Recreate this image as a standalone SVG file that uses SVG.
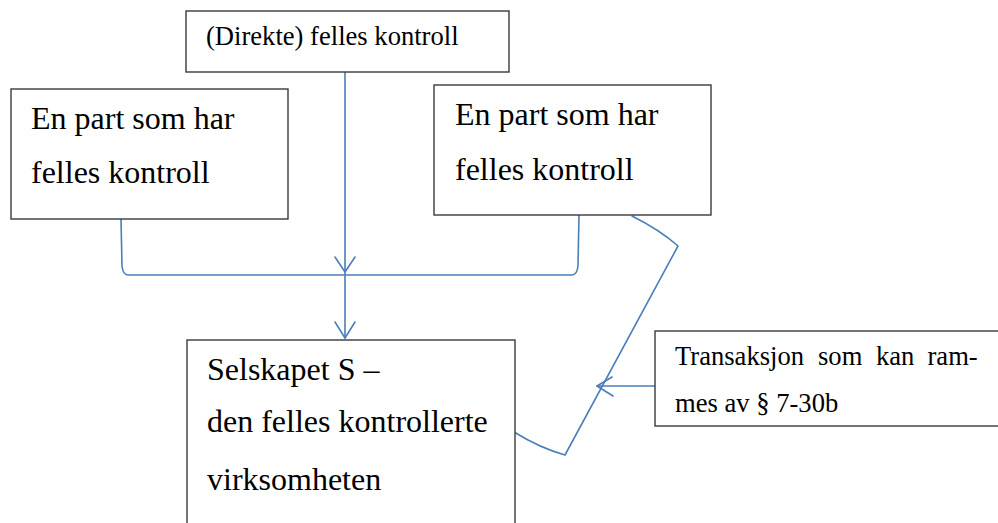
<svg xmlns="http://www.w3.org/2000/svg" width="998" height="523" viewBox="0 0 998 523">
  <style>
    .box { fill: #ffffff; stroke: #3a3a3a; stroke-width: 1.4; }
    .big { font-family: "Liberation Serif", "Times New Roman", serif; font-size: 32px; fill: #000; }
    .small { font-family: "Liberation Serif", "Times New Roman", serif; font-size: 26.6px; fill: #000; }
    .conn { fill: none; stroke: #4a7ebb; stroke-width: 1.6; stroke-linejoin: round; stroke-linecap: round; }
  </style>
  <rect width="998" height="523" fill="#ffffff"/>

  <g id="connectors">
    <!-- bracket joining the two parties -->
    <path class="conn" d="M121 219 L122 266 Q123 275 128 275 L572 275 Q577 275 578 266 L579 215"/>
    <!-- direct joint control line -->
    <path class="conn" d="M345 72 L345 338"/>
    <path class="conn" d="M335 257 L345 272 L355 257"/>
    <path class="conn" d="M335 322 L345 338 L355 322"/>
    <!-- transaction loop -->
    <path class="conn" d="M632 216 Q660 230 678 246 L565 455 Q540 448 514 432"/>
    <!-- transaction pointer -->
    <path class="conn" d="M655 386 L597 386"/>
    <path class="conn" d="M612 377 L597 386 L613 396"/>
  </g>

  <g id="node-direct">
    <rect class="box" x="186" y="11" width="323" height="61"/>
    <text class="small" x="206" y="45">(Direkte) felles kontroll</text>
  </g>

  <g id="node-party-left">
    <rect class="box" x="11" y="89" width="277" height="130"/>
    <text class="big" x="31" y="129">En part som har</text>
    <text class="big" x="31" y="183">felles kontroll</text>
  </g>

  <g id="node-party-right">
    <rect class="box" x="434" y="85" width="277" height="130"/>
    <text class="big" x="455" y="125">En part som har</text>
    <text class="big" x="455" y="180">felles kontroll</text>
  </g>

  <g id="node-company">
    <rect class="box" x="187" y="340" width="328" height="190"/>
    <text class="big" x="207" y="380">Selskapet S –</text>
    <text class="big" x="207" y="432">den felles kontrollerte</text>
    <text class="big" x="207" y="490">virksomheten</text>
  </g>

  <g id="node-transaction">
    <rect class="box" x="655" y="331" width="350" height="95"/>
    <text class="small" y="365"><tspan x="675">Transaksjon</tspan><tspan x="818">som</tspan><tspan x="876">kan</tspan><tspan x="927.5">ram-</tspan></text>
    <text class="small" x="675" y="412">mes av § 7-30b</text>
  </g>
</svg>
